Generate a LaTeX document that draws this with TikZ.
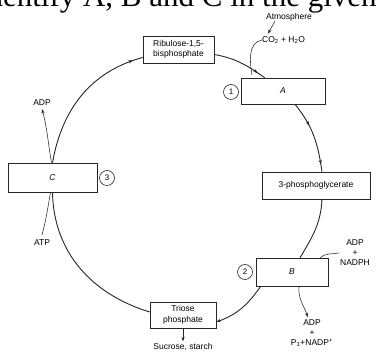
\documentclass[tikz,border=0pt]{standalone}
\usepackage{fontspec}
\setmainfont{Liberation Sans}
\newfontfamily\titlefont{Liberation Serif}
\usetikzlibrary{arrows.meta,decorations.markings}
\begin{document}
\begin{tikzpicture}[x=1pt,y=1pt,
  box/.style={draw=black!85, line width=0.6pt, minimum height=26pt, inner sep=1pt,
    font=\fontsize{8.5}{10.5}\selectfont, align=center},
  num/.style={circle, draw=black!85, line width=0.6pt, minimum size=15pt, inner sep=0pt,
    font=\fontsize{8}{9}\selectfont},
  lbl/.style={font=\fontsize{8.5}{10}\selectfont, inner sep=0pt, align=center},
  cyc/.style={line width=0.9pt, draw=black!85},
  side/.style={line width=0.55pt, draw=black!85},
  tip/.style={-{Stealth[length=4.5pt,width=3.2pt]}},
  onetip/.style={postaction={decorate}, decoration={markings,
    mark=at position #1 with {\arrow{Stealth[length=4.5pt,width=3.2pt]}}}},
  twotips/.style 2 args={postaction={decorate}, decoration={markings,
    mark=at position #1 with {\arrow{Stealth[length=4.5pt,width=3.2pt]}},
    mark=at position #2 with {\arrow{Stealth[length=4.5pt,width=3.2pt]}}}}
]
\useasboundingbox (0,0) rectangle (379,352);
\clip (0,0) rectangle (379,352);
\fill[white] (0,0) rectangle (379,352);

% cropped title
\node[anchor=base west, inner sep=0pt, font=\titlefont\fontsize{31}{31}\selectfont]
  (title) at (-23,345) {Identify A, B and C in the given};

% boxes
\node[box, minimum width=71pt, minimum height=27pt] (R) at (178.5,302.5) {Ribulose-1,5-\\bisphosphate};
\node[box, minimum width=84pt] (A) at (283,261) {\itshape A};
\node[num] (n1) at (231,260) {1};
\node[box, minimum width=108pt, minimum height=27pt] (P) at (316,166.5) {3-phosphoglycerate};
\node[box, minimum width=72pt, minimum height=28pt] (B) at (292,80) {\itshape B};
\node[num] (n2) at (245,80) {2};
\node[box, minimum width=66pt] (T) at (183,37) {Triose\\phosphate};
\node[box, minimum width=89pt, minimum height=29pt] (C) at (52.5,174.5) {\itshape C};
\node[num] (n3) at (107,174) {3};

% labels
\node[lbl] (atm) at (289,335) {Atmosphere};
\node[lbl, anchor=west] (co2) at (262,312) {CO\textsubscript{2} + H\textsubscript{2}O};
\node[lbl] (adp1) at (355,99) {ADP\\+\\NADPH};
\node[lbl] (adp2) at (312,19) {ADP\\+\\P\textsubscript{1}+NADP\textsuperscript{+}};
\node[lbl] (adp3) at (42,249) {ADP};
\node[lbl] (atp) at (42,109) {ATP};
\node[lbl, anchor=south] (suc) at (183,1) {Sucrose, starch};

% cycle
\draw[cyc, onetip=0.93] (C.north) to[out=80,in=195] ([yshift=-8pt]R.west);
\draw[cyc, onetip=0.85] ([yshift=-5pt]R.east) to[out=-10,in=145] ([xshift=24pt]A.north west);
\draw[cyc, twotips={0.35}{0.9}] ([xshift=12pt]A.south) to[out=-51,in=98] ([xshift=6pt]P.north);
\draw[cyc] ([xshift=6pt]P.south) to[out=-93,in=59] ([xshift=8pt]B.north);
\draw[cyc, tip] ([xshift=5pt]B.south west) to[out=-125,in=20] ([yshift=-7pt]T.east);
\draw[cyc] ([yshift=3pt]T.west) to[out=163,in=-89] (C.south);

% side connectors
\coordinate (join) at (252,277);
\draw[side, tip] ([xshift=-14pt]atm.south) -- ([xshift=6pt,yshift=2.5pt]co2.north west);
\draw[side] (co2.west) to[out=190,in=100] (join);
\draw[side] ([xshift=-8pt]B.north east) to[out=40,in=190] ([xshift=-1pt]adp1.west);
\draw[side, tip] ([xshift=7pt]B.south) to[out=-95,in=110] ([xshift=-4pt,yshift=2pt]adp2.north);
\draw[side, tip] ([xshift=-1pt]C.north) to[out=100,in=-75] ([yshift=-3pt]adp3.south);
\draw[side] ([xshift=-2pt]C.south) to[out=-100,in=75] ([yshift=5pt]atp.north);
\draw[side, tip] (T.south) -- ([yshift=2pt]suc.north);
\end{tikzpicture}
\end{document}
